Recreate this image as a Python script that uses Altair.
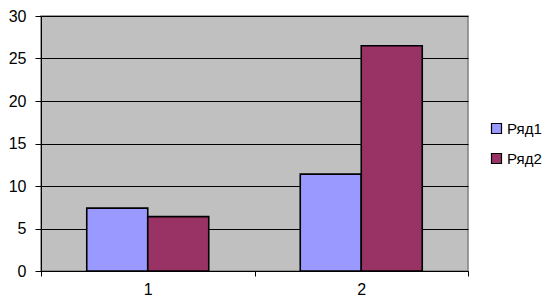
import altair as alt
import pandas as pd

categories = ["1", "2"]
series = ["Ряд1", "Ряд2"]
values_s1 = [7.4, 11.4]
values_s2 = [6.4, 26.5]
colors = ["#9999FF", "#993366"]

rows = []
for i, c in enumerate(categories):
    rows.append({"cat": c, "series": series[0], "value": values_s1[i]})
    rows.append({"cat": c, "series": series[1], "value": values_s2[i]})
df = pd.DataFrame(rows)

FONT = "Liberation Sans"

chart = alt.Chart(df).mark_bar(stroke="black", strokeWidth=1.6).encode(
    x=alt.X("cat:N", sort=categories,
            scale=alt.Scale(paddingInner=0, paddingOuter=0),
            axis=alt.Axis(title=None, labelAngle=0, tickBand="extent",
                          domainColor="black", tickColor="black", tickSize=5,
                          labelFontSize=16, labelPadding=5, labelColor="black",
                          labelFont=FONT, grid=False)),
    xOffset=alt.XOffset("series:N", sort=series,
                        scale=alt.Scale(paddingInner=0, paddingOuter=0.75)),
    y=alt.Y("value:Q", scale=alt.Scale(domain=[0, 30], nice=False),
            axis=alt.Axis(title=None, values=[0, 5, 10, 15, 20, 25, 30],
                          grid=True, gridColor="black", gridWidth=1, gridOpacity=1,
                          domainColor="black", tickColor="black", tickSize=6,
                          labelFontSize=16, labelPadding=9, labelColor="black",
                          labelFont=FONT)),
    color=alt.Color("series:N", sort=series,
                    scale=alt.Scale(domain=series, range=colors),
                    legend=alt.Legend(title=None, orient="none", legendX=448, legendY=105,
                                      symbolType="square", symbolSize=100,
                                      symbolStrokeColor="black", symbolStrokeWidth=1.2,
                                      labelFontSize=15, labelFont=FONT, labelColor="black",
                                      labelOffset=3, rowPadding=14, padding=0)),
).properties(
    width=427, height=255,
    background="white",
    autosize=alt.AutoSizeParams(type="none"),
    padding={"left": 33, "top": 8, "right": 81, "bottom": 26},
).configure_view(
    fill="#C0C0C0", stroke="#808080", strokeWidth=1.5
)

chart.save("out.html", embed_options={"renderer": "svg", "actions": False})
